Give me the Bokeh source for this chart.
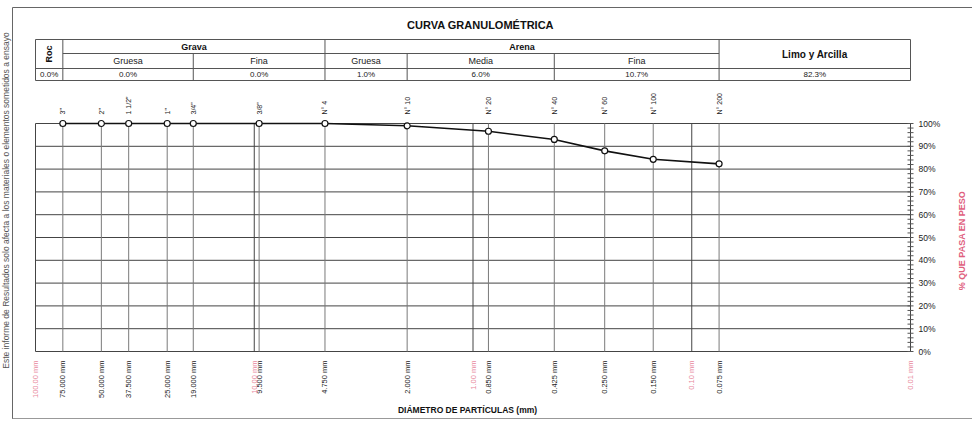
import math
from bokeh.plotting import figure
from bokeh.models import Range1d
from bokeh.core.properties import value
from bokeh.embed import file_html
from bokeh.resources import INLINE

# ---------------- data ----------------
sieve_names = ['3"', '2"', '1 1/2"', '1"', '3/4"', '3/8"', 'N° 4', 'N° 10',
               'N° 20', 'N° 40', 'N° 60', 'N° 100', 'N° 200']
sieve_mm = [75.0, 50.0, 37.5, 25.0, 19.0, 9.5, 4.75, 2.0, 0.85, 0.425, 0.25, 0.15, 0.075]
passing = [100.0, 100.0, 100.0, 100.0, 100.0, 100.0, 100.0, 99.0, 96.6, 93.0, 88.0, 84.3, 82.3]
size_labels = ["75.000 mm", "50.000 mm", "37.500 mm", "25.000 mm", "19.000 mm", "9.500 mm",
               "4.750 mm", "2.000 mm", "0.850 mm", "0.425 mm", "0.250 mm", "0.150 mm", "0.075 mm"]
decade_mm = [100.0, 10.0, 1.0, 0.1, 0.01]
decade_labels = ["100.00 mm", "10.00 mm", "1.00 mm", "0.10 mm", "0.01 mm"]
pct_ticks = [0, 10, 20, 30, 40, 50, 60, 70, 80, 90, 100]

title = "CURVA GRANULOMÉTRICA"
x_title = "DIÁMETRO DE PARTÍCULAS (mm)"
y_title = "% QUE PASA EN PESO"
side_note = "Este informe de Resultados solo afecta a los materiales o elementos sometidos a ensayo"

# ---------------- geometry helpers (screen px -> data) ----------------
X100_PX, PX_PER_DEC = 35.0, 218.75
Y0_PX, PX_PER_PCT = 351.0, 2.28
OFF = 0  # observed placement of the figure in the screenshot


def xd(px):
    return 100.0 * 10 ** (-(px - X100_PX) / PX_PER_DEC)


def yd(px):
    return (Y0_PX - px) / PX_PER_PCT


W, H = 972, 419
p = figure(width=W, height=H, output_backend="svg", toolbar_location=None,
           x_axis_type="log",
           x_range=Range1d(xd(OFF), xd(OFF + W)),
           y_range=Range1d(yd(OFF + H), yd(OFF)),
           min_border=0, min_border_left=0, min_border_right=0,
           min_border_top=0, min_border_bottom=0)
p.axis.visible = False
p.grid.visible = False
p.outline_line_color = None
p.background_fill_color = "white"
p.border_fill_color = "white"

FONT = value("Liberation Sans")
PINK = "#e0607e"
PINK_L = "#e8879c"

XMAX, XMIN = decade_mm[0], decade_mm[-1]

# ---------------- outer frame ----------------
p.segment(x0=[xd(12)], y0=[yd(7)], x1=[xd(972)], y1=[yd(7)], line_color="#666", line_width=1)
p.segment(x0=[xd(12)], y0=[yd(7)], x1=[xd(12)], y1=[yd(425)], line_color="#666", line_width=1)
p.segment(x0=[xd(12)], y0=[yd(418)], x1=[xd(972)], y1=[yd(418)], line_color="#999", line_width=1)

p.text(x=[xd(5.5)], y=[yd(200)], text=[side_note], angle=math.pi / 2,
       text_align="center", text_baseline="middle", text_font=FONT,
       text_font_size="8.5px", text_color="#555")

# ---------------- title ----------------
p.text(x=[xd(480)], y=[yd(24)], text=[title],
       text_align="center", text_baseline="middle", text_font=FONT,
       text_font_size="11px", text_font_style="bold", text_color="#111")

# ---------------- classification table ----------------
T_TOP, T_R1, T_R2, T_BOT = 39, 53, 68, 80
s75, s19, s475, s2, s0425, s0075 = (sieve_mm[0], sieve_mm[4], sieve_mm[6],
                                    sieve_mm[7], sieve_mm[9], sieve_mm[12])
tcol = "#555"
p.segment(x0=[XMAX, XMAX, XMAX, s75], y0=[yd(T_TOP), yd(T_R2), yd(T_BOT), yd(T_R1)],
          x1=[XMIN, XMIN, XMIN, s0075], y1=[yd(T_TOP), yd(T_R2), yd(T_BOT), yd(T_R1)],
          line_color=tcol, line_width=1)
full_v = [XMAX, s75, s475, s0075, XMIN]
p.segment(x0=full_v, y0=[yd(T_TOP)] * len(full_v), x1=full_v, y1=[yd(T_BOT)] * len(full_v),
          line_color=tcol, line_width=1)
part_v = [s19, s2, s0425]
p.segment(x0=part_v, y0=[yd(T_R1)] * len(part_v), x1=part_v, y1=[yd(T_BOT)] * len(part_v),
          line_color=tcol, line_width=1)


def lc(a, b):
    return math.sqrt(a * b)


roc = 100.0 - passing[0]
grava_g = passing[0] - passing[4]
grava_f = passing[4] - passing[6]
arena_g = passing[6] - passing[7]
arena_m = passing[7] - passing[9]
arena_f = passing[9] - passing[12]
finos = passing[12]

p.text(x=[lc(XMAX, s75)], y=[yd((T_TOP + T_R2) / 2)], text=["Roc"], angle=math.pi / 2,
       text_align="center", text_baseline="middle", text_font=FONT,
       text_font_size="9px", text_font_style="bold", text_color="#111")
p.text(x=[lc(s75, s475), lc(s475, s0075)], y=[yd((T_TOP + T_R1) / 2)] * 2,
       text=["Grava", "Arena"], text_align="center", text_baseline="middle",
       text_font=FONT, text_font_size="9px", text_font_style="bold", text_color="#111")
p.text(x=[lc(s0075, XMIN)], y=[yd((T_TOP + T_R2) / 2)], text=["Limo y Arcilla"],
       text_align="center", text_baseline="middle", text_font=FONT,
       text_font_size="10px", text_font_style="bold", text_color="#111")
p.text(x=[lc(s75, s19), lc(s19, s475), lc(s475, s2), lc(s2, s0425), lc(s0425, s0075)],
       y=[yd((T_R1 + T_R2) / 2)] * 5,
       text=["Gruesa", "Fina", "Gruesa", "Media", "Fina"],
       text_align="center", text_baseline="middle", text_font=FONT,
       text_font_size="9px", text_color="#222")
p.text(x=[lc(XMAX, s75), lc(s75, s19), lc(s19, s475), lc(s475, s2), lc(s2, s0425),
          lc(s0425, s0075), lc(s0075, XMIN)],
       y=[yd((T_R2 + T_BOT) / 2)] * 7,
       text=[f"{v:.1f}%" for v in [roc, grava_g, grava_f, arena_g, arena_m, arena_f, finos]],
       text_align="center", text_baseline="middle", text_font=FONT,
       text_font_size="8px", text_color="#222")

# ---------------- chart grid ----------------
p.segment(x0=[XMAX] * len(pct_ticks), y0=pct_ticks, x1=[XMIN] * len(pct_ticks), y1=pct_ticks,
          line_color="#444", line_width=1)
p.segment(x0=sieve_mm, y0=[0] * len(sieve_mm), x1=sieve_mm, y1=[100] * len(sieve_mm),
          line_color="#7a7a7a", line_width=1)
p.segment(x0=decade_mm, y0=[0] * len(decade_mm), x1=decade_mm, y1=[100] * len(decade_mm),
          line_color="#444", line_width=1)
minor = list(range(0, 101, 2))
p.segment(x0=[xd(907)] * len(minor), y0=minor, x1=[xd(913)] * len(minor), y1=minor,
          line_color="#555", line_width=1)

p.text(x=[xd(918)] * len(pct_ticks), y=pct_ticks, text=[f"{t}%" for t in pct_ticks],
       text_align="left", text_baseline="middle", text_font=FONT,
       text_font_size="8.5px", text_color="#222")
p.text(x=[xd(961)], y=[yd(240)], text=[y_title], angle=math.pi / 2,
       text_align="center", text_baseline="middle", text_font=FONT,
       text_font_size="9px", text_font_style="bold", text_color=PINK)

# ---------------- data curve ----------------
p.line(x=sieve_mm, y=passing, line_color="#111", line_width=1.6)
p.scatter(x=sieve_mm, y=passing, marker="circle", size=6, fill_color="white",
          line_color="#111", line_width=1.2)

p.text(x=sieve_mm, y=[yd(114)] * len(sieve_mm), text=sieve_names, angle=math.pi / 2,
       text_align="left", text_baseline="middle", text_font=FONT,
       text_font_size="7px", text_color="#222")

p.text(x=sieve_mm, y=[yd(360)] * len(sieve_mm), text=size_labels, angle=math.pi / 2,
       text_align="right", text_baseline="middle", text_font=FONT,
       text_font_size="7.5px", text_color="#222")
p.text(x=decade_mm, y=[yd(360)] * len(decade_mm), text=decade_labels, angle=math.pi / 2,
       text_align="right", text_baseline="middle", text_font=FONT,
       text_font_size="7.5px", text_color=PINK_L)

p.text(x=[xd(467)], y=[yd(409)], text=[x_title], text_align="center", text_baseline="middle",
       text_font=FONT, text_font_size="8.5px", text_font_style="bold", text_color="#111")

open("out.html", "w").write(file_html(p, INLINE))
